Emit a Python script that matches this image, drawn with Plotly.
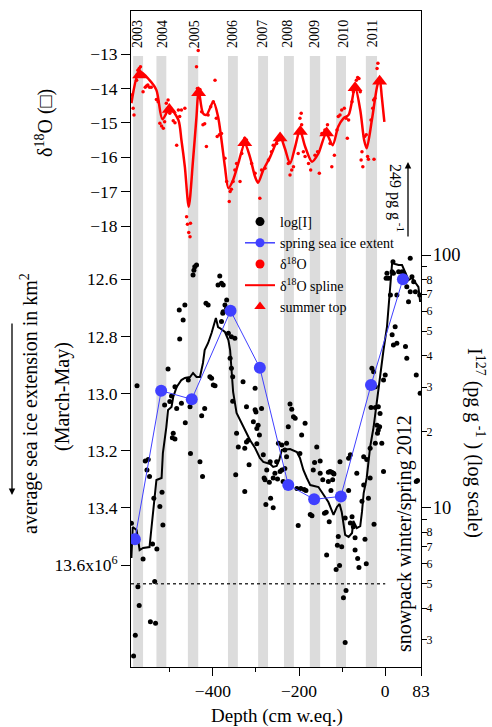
import plotly.graph_objects as go

FONT = "Liberation Serif"

# ---------------- data ----------------
# grey summer bands (depth, cm w.eq.)
band_start = [-585, -531, -458, -365, -295, -235, -175, -114, -45]
band_end = [-562, -508, -434, -342, -272, -212, -151, -91, -19]
year_labels = ["2003", "2004", "2005", "2006", "2007", "2008", "2009", "2010", "2011"]
year_depth = [-574, -516, -441, -353, -284, -226, -163, -96, -28]

# spring (March-May) sea ice extent, 10^6 km2
sea_year = [2003, 2004, 2005, 2006, 2007, 2008, 2009, 2010, 2011, 2012]
sea_depth = [-581, -520, -449, -359, -291, -225, -165, -103, -33, 41]
sea_ice = [13.51, 12.99, 13.02, 12.71, 12.91, 13.32, 13.37, 13.36, 12.97, 12.60]

# delta 18O samples
d18_depth = [-589, -585, -583, -577, -576, -574, -571, -568, -565, -562, -557, -554, -551, -547, -543,
             -531, -527, -523, -519, -515, -512, -508, -504, -500, -492, -488, -484, -480, -477, -473,
             -465, -461, -459, -456, -453, -452, -438, -434, -436, -430, -426, -423, -419, -415, -411,
             -405, -399, -395, -392, -390, -385, -380, -372, -368, -362, -360, -357, -353, -349, -345,
             -337, -333, -326, -322, -310, -302, -291, -287, -279, -271, -264, -260, -252, -248, -244,
             -237, -225, -221, -217, -213, -202, -198, -195, -194, -190, -186, -178, -173, -163, -157,
             -153, -147, -140, -134, -128, -124, -118, -112, -109, -105, -101, -95, -91, -88, -85,
             -77, -74, -67, -64, -61, -58, -56, -54, -52, -48, -44, -41, -39, -26, -33, -29, -27, -24,
             -19, -17]
d18_val = [-14.19, -14.58, -14.77, -13.76, -13.61, -13.47, -13.42, -13.37, -13.61, -14.10, -13.97, -13.93, -13.90, -13.97, -13.97,
           -14.32, -14.39, -15.01, -15.09, -15.16, -14.97, -14.43, -14.34, -14.72, -14.94, -15.00, -15.65, -14.63, -14.82, -14.63,
           -14.58, -17.73, -17.95, -18.19, -18.31, -17.92, -13.37, -12.90, -14.00, -14.03, -14.68, -15.06, -15.03, -15.69, -14.77,
           -14.53, -14.39, -13.76, -14.87, -15.40, -15.35, -15.31, -16.03, -16.71, -17.29, -17.00, -16.93, -16.71, -16.37, -16.18,
           -16.71, -15.89, -15.45, -15.50, -16.18, -16.47, -17.19, -16.37, -16.32, -16.08, -15.84, -15.65, -15.60, -15.50, -15.40,
           -15.50, -16.18, -16.52, -16.37, -16.28, -15.89, -14.87, -14.72, -15.06, -15.84, -15.98, -16.18, -16.37, -15.94, -15.84,
           -16.47, -15.31, -15.21, -15.06, -15.60, -16.28, -15.94, -15.21, -14.82, -14.77, -14.63, -14.58, -14.87, -15.45, -14.92,
           -14.39, -14.10, -13.76, -13.68, -13.71, -14.10, -16.08, -15.84, -16.28, -15.40, -15.35, -15.98, -16.06, -16.06, -14.92, -14.58, -14.34, -14.29,
           -13.42, -13.27]

# delta 18O spline
spl_depth = [-589, -570, -547, -531, -517, -500, -480, -473, -465, -456, -446, -438, -433, -423, -415,
             -399, -388, -380, -372, -364, -353, -341, -326, -314, -302, -295, -283, -267, -252, -244,
             -233, -221, -209, -198, -186, -170, -155, -137, -122, -109, -97, -85, -70, -58, -49,
             -43, -31, -19, -13, -8, -2]
spl_val = [-14.43, -13.51, -13.76, -14.05, -14.90, -14.58, -14.92, -15.50, -16.28, -17.44, -16.08, -14.82, -14.05, -14.72, -14.77,
           -14.39, -14.82, -15.50, -16.28, -16.90, -16.66, -16.18, -15.60, -15.99, -16.57, -16.74, -16.37, -15.99, -15.55, -15.40,
           -15.74, -16.18, -15.69, -15.21, -15.69, -16.13, -15.89, -15.31, -15.65, -15.11, -14.87, -14.77, -13.97, -14.63, -15.50,
           -15.74, -14.92, -13.95, -13.71, -14.24, -14.97]

# summer tops
top_depth = [-570, -501, -433, -326, -244, -197, -136, -70, -13]
top_val = [-13.61, -14.61, -14.13, -15.58, -15.44, -15.25, -15.30, -13.98, -13.79]

# iodine samples (pg/g)
iod_depth = [-589, -562, -540, -530, -537, -523, -518, -516, -535, -574, -571, -545, -533, -580, -584,
             -576, -557, -550, -547, -504, -512, -500, -496, -488, -492, -494, -488, -484, -473, -478,
             -469, -465, -477, -464, -457, -453, -452, -446, -442, -438, -444, -430, -426, -424, -419,
             -416, -411, -407, -403, -399, -395, -388, -384, -380, -376, -377, -372, -368, -364, -357,
             -360, -357, -354, -349, -345, -341, -347, -322, -380, -354, -330, -302, -300, -306, -295,
             -298, -292, -322, -221, -217, -213, -209, -194, -186, -159, -229, -240, -248, -326, -318,
             -287, -279, -275, -267, -252, -244, -260, -240, -233, -237, -167, -151, -132, -128, -120,
             -105, -85, -66, -50, -35, -31, -27, -23, -16, -12, -19, -23, -4, 4, 8,
             12, 16, 19, 23, 19, 27, 31, 39, 43, 47, 50, 54, 58, 62, 66,
             70, 58, 72, 81, 27, 16, 50, 18, 2, 80, 0, -4, -8, 72, 75,
             -553, -326, -316, -302, -298, -283, -281, -269, -277, -266, -260, -256, -250, -233, -229,
             -225, -198, -205, -202, -196, -188, -184, -174, -170, -164, -151, -145, -141, -137, -136,
             -130, -132, -124, -119, -122, -126, -114, -109, -111, -106, -101, -93, -85, -81, -91,
             -97, -77, -74, -70, -70, -64, -61, -47, -44, -54, -50, -43, -39, -35, -26,
             -13, -18, -16, -33, -23, -93, -81, -376, -368]
iod_val = [8.68, 6.27, 7.19, 6.87, 10.9, 10.1, 11.5, 8.54, 5.10, 4.87, 4.10, 3.54, 3.49, 3.13, 2.59,
           30.4, 15.3, 15.5, 13.3, 35.4, 25.5, 26.3, 27.7, 30.1, 19.7, 18.9, 18.7, 24.7, 25.9, 60.6,
           55.3, 63.4, 46.5, 21.7, 32.0, 25.1, 16.4, 83.3, 89.9, 91.3, 87.0, 15.2, 23.1, 13.3, 24.7,
           64.4, 63.4, 33.0, 32.5, 30.6, 30.4, 76.1, 82.6, 77.3, 76.1, 58.8, 63.4, 66.3, 49.0, 47.5,
           39.0, 35.6, 26.4, 46.8, 19.7, 17.4, 13.5, 25.1, 54.5, 33.0, 31.5, 29.7, 23.9, 21.9, 21.2,
           20.6, 19.4, 18.2, 25.7, 24.5, 22.9, 22.6, 19.4, 21.6, 17.4, 18.0, 17.7, 18.0, 17.2, 18.5,
           24.7, 12.9, 14.1, 15.2, 15.2, 13.9, 13.1, 14.1, 14.3, 12.7, 14.1, 13.7, 12.7, 13.9, 13.7,
           15.2, 15.7, 13.7, 15.9, 17.2, 35.6, 34.5, 30.1, 25.1, 23.6, 21.2, 18.0, 13.9, 84.6, 80.9,
           69.5, 85.9, 84.6, 52.0, 44.0, 44.7, 85.9, 85.9, 84.6, 43.4, 39.0, 65.3, 97.0, 82.1, 78.4,
           71.6, 71.6, 33.5, 28.4, 69.5, 48.3, 74.9, 94.0, 80.9, 69.5, 33.5, 32.0, 18.0, 12.7, 12.8,
           14.1, 11.6, 14.8, 24.4, 17.9, 16.2, 13.1, 12.6, 10.3, 10.9, 10.0, 13.7, 13.0, 16.9, 15.9,
           20.9, 16.4, 11.9, 8.5, 11.9, 11.8, 11.7, 9.4, 9.3, 15.1, 15.3, 12.9, 9.5, 9.6, 6.5,
           8.8, 13.8, 13.8, 13.6, 12.9, 11.7, 5.7, 7.7, 7.1, 5.9, 7.0, 9.1, 11.7, 16.2, 4.7,
           4.4, 9.2, 8.4, 7.6, 6.8, 6.3, 5.8, 7.5, 6.0, 10.6, 12.3, 15.5, 10.9, 13.1, 8.6,
           20.9, 19.7, 20.3, 24.9, 24.9, 2.93, 8.7, 59.6, 61.5]

# iodine running mean
rm_depth = [-589, -586, -577, -570, -562, -547, -543, -539, -535, -531, -519, -516, -508, -504, -496,
            -492, -484, -473, -465, -453, -446, -438, -430, -426, -423, -419, -411, -403, -399, -393,
            -388, -384, -372, -364, -360, -357, -353, -345, -337, -326, -314, -302, -291, -283, -267,
            -260, -252, -246, -240, -221, -205, -198, -190, -182, -174, -155, -143, -132, -120, -112,
            -106, -101, -93, -85, -77, -74, -66, -58, -54, -50, -43, -35, -27, -19, -12,
            -4, 4, 8, 12, 16, 23, 31, 39, 47, 54, 62, 70, 77, 81]
rm_val = [6.32, 8.39, 8.16, 6.80, 6.93, 6.99, 8.16, 9.53, 11.02, 12.87, 13.11, 16.46, 20.86, 24.36, 25.03,
          27.43, 30.03, 32.01, 32.60, 32.90, 34.12, 32.90, 32.90, 35.71, 37.38, 42.08, 44.86, 49.13, 51.89, 56.33,
          51.89, 51.41, 49.58, 46.10, 42.08, 36.05, 28.70, 23.71, 22.24, 20.30, 18.53, 17.23, 15.73, 15.17, 14.89,
          14.49, 14.62, 15.45, 16.92, 17.07, 16.61, 15.73, 14.10, 13.11, 12.29, 12.07, 11.23, 10.53, 9.36, 10.07,
          10.34, 9.62, 7.80, 7.66, 7.94, 8.86, 8.31, 8.46, 9.62, 11.43, 13.11, 17.39, 20.86, 26.68, 34.12,
          42.08, 51.89, 62.27, 79.63, 92.97, 92.13, 91.29, 91.29, 84.87, 79.63, 81.10, 77.49, 74.72, 65.16]

threshold_depth = [-590, 0]
threshold_I = [5, 5]

# axis ticks
x_tickvals = [-400, -200, 0, 83]
x_ticktext = ["\u2212400", "\u2212200", "0", "83"]
x_minor = [-500, -300, -100]
sea_tickvals = [12.6, 12.8, 13.0, 13.2, 13.4, 13.6]
sea_ticktext = ["12.6", "12.8", "13.0", "13.2", "13.4", "13.6x10<sup>6</sup>"]
d18_tickvals = [-13, -14, -15, -16, -17, -18]
d18_ticktext = ["\u221213", "\u221214", "\u221215", "\u221216", "\u221217", "\u221218"]
log_major = [10, 100]
log_minor = [3, 4, 5, 6, 7, 8, 20, 30, 40, 50, 60, 70, 80]
log_minor_text = ["3", "4", "5", "6", "7", "8", "2", "3", "4", "5", "6", "7", "8"]
log_minor_unlabeled = [9, 90]

# ---------------- figure ----------------
W, H = 492, 727
ML, MR, MT, MB = 131, 71, 11, 60
PW, PH = W - ML - MR, H - MT - MB


def PX(px):
    return (px - ML) / PW


def PY(py):
    return (H - MB - py) / PH


BLUE = "#4040ff"
fig = go.Figure()

fig.add_trace(go.Scatter(x=iod_depth, y=iod_val, yaxis="y", mode="markers",
                         marker=dict(color="black", size=5), showlegend=False))
fig.add_trace(go.Scatter(x=rm_depth, y=rm_val, yaxis="y", mode="lines",
                         line=dict(color="black", width=2), showlegend=False))
fig.add_trace(go.Scatter(x=threshold_depth, y=threshold_I, yaxis="y", mode="lines",
                         line=dict(color="#333333", width=1.5, dash="dot"), showlegend=False))
fig.add_trace(go.Scatter(x=[None], y=[None], yaxis="y4", mode="markers", showlegend=False,
                         hoverinfo="skip"))
fig.add_trace(go.Scatter(x=sea_depth, y=sea_ice, yaxis="y2", mode="lines+markers",
                         line=dict(color=BLUE, width=1), marker=dict(color=BLUE, size=12),
                         showlegend=False))
fig.add_trace(go.Scatter(x=d18_depth, y=d18_val, yaxis="y3", mode="markers",
                         marker=dict(color="red", size=3.5), showlegend=False))
fig.add_trace(go.Scatter(x=spl_depth, y=spl_val, yaxis="y3", mode="lines",
                         line=dict(color="red", width=2.5, shape="spline", smoothing=0.8),
                         showlegend=False))
fig.add_trace(go.Scatter(x=top_depth, y=top_val, yaxis="y3", mode="markers",
                         marker=dict(symbol="triangle-up", color="red", size=13), showlegend=False))

# legend entries
fig.add_trace(go.Scatter(x=[None], y=[None], yaxis="y", mode="markers", name="log[I]",
                         marker=dict(color="black", size=9)))
fig.add_trace(go.Scatter(x=[None], y=[None], yaxis="y2", mode="lines+markers",
                         name="spring sea ice extent",
                         line=dict(color=BLUE, width=1.5), marker=dict(color=BLUE, size=9)))
fig.add_trace(go.Scatter(x=[None], y=[None], yaxis="y3", mode="markers", name="\u03b4<sup>18</sup>O",
                         marker=dict(color="red", size=9)))
fig.add_trace(go.Scatter(x=[None], y=[None], yaxis="y3", mode="lines", name="\u03b4<sup>18</sup>O spline",
                         line=dict(color="red", width=2)))
fig.add_trace(go.Scatter(x=[None], y=[None], yaxis="y3", mode="markers", name="summer top",
                         marker=dict(symbol="triangle-up", color="red", size=10)))

shapes = []
for s, e in zip(band_start, band_end):
    shapes.append(dict(type="rect", xref="x", yref="paper", x0=s, x1=e, y0=0, y1=PY(56),
                       fillcolor="#dcdcdc", line=dict(width=0), layer="below"))


def note(text, px, py, size, angle=0):
    return dict(text=text, x=PX(px), y=PY(py), xref="paper", yref="paper", showarrow=False,
                textangle=angle, font=dict(size=size, color="black"),
                xanchor="center", yanchor="middle")


annotations = []
for lab, d in zip(year_labels, year_depth):
    annotations.append(dict(text=lab, x=d, y=PY(34), xref="x", yref="paper", showarrow=False,
                            textangle=-90, font=dict(size=14, color="black"),
                            xanchor="center", yanchor="middle"))

annotations += [
    note("\u03b4<sup>18</sup>O (\u25a1)", 44, 123, 20, -90),
    note("average sea ice extension in km<sup>2</sup>", 29, 404, 20, -90),
    note("(March-May)", 62, 397, 20, -90),
    note("I<sup>127</sup> (pg g<sup> -1</sup> ) (log scale)", 475, 443, 20, 90),
    note("snowpack winter/spring 2012", 404, 534, 20, -90),
    note("249 pg g<sup> -1</sup>", 396, 198, 16, 90),
    dict(text="", x=PX(408), y=PY(162), xref="paper", yref="paper", showarrow=True,
         ax=0, ay=76, arrowhead=2, arrowsize=1, arrowwidth=1.3, arrowcolor="black"),
    dict(text="", x=PX(12), y=PY(495), xref="paper", yref="paper", showarrow=True,
         ax=0, ay=-173, arrowhead=2, arrowsize=1, arrowwidth=1.3, arrowcolor="black"),
    note("Depth (cm w.eq.)", 276.5, 716, 19),
]

axis_common = dict(showgrid=False, zeroline=False, ticks="outside", tickcolor="black",
                   tickwidth=1, linecolor="black", linewidth=1, color="black")

fig.update_layout(
    width=W, height=H,
    margin=dict(l=ML, r=MR, t=MT, b=MB, pad=0),
    paper_bgcolor="white", plot_bgcolor="white",
    font=dict(family=FONT, color="black", size=17),
    xaxis=dict(range=[-590, 83], tickmode="array", tickvals=x_tickvals, ticktext=x_ticktext,
               ticklen=8, showline=True, mirror=True, tickfont=dict(size=17.5, color="black"),
               minor=dict(tickvals=x_minor, ticklen=4, ticks="outside", tickcolor="black"),
               **axis_common),
    yaxis=dict(type="log", range=[0.3696, 2.9656], side="right", anchor="x",
               tickmode="array", tickvals=log_major, ticktext=["10", "100"], ticklen=9,
               showline=True, tickfont=dict(size=18.5, color="black"), ticklabelstandoff=-2,
               **axis_common),
    yaxis4=dict(type="log", range=[0.3696, 2.9656], side="right", anchor="x", overlaying="y",
                tickmode="array", tickvals=log_minor, ticktext=log_minor_text, ticklen=5,
                showline=False, tickfont=dict(size=12, color="black"), ticklabelstandoff=-3,
                minor=dict(tickvals=log_minor_unlabeled, ticklen=5, ticks="outside",
                           tickcolor="black"),
                **axis_common),
    yaxis2=dict(range=[13.957, 11.661], side="left", anchor="x", overlaying="y",
                tickmode="array", tickvals=sea_tickvals, ticktext=sea_ticktext, ticklen=9,
                showline=True, tickfont=dict(size=17.5, color="black"), **axis_common),
    yaxis3=dict(range=[-30.82, -11.75], side="left", anchor="x", overlaying="y",
                tickmode="array", tickvals=d18_tickvals, ticktext=d18_ticktext, ticklen=9,
                showline=False, tickfont=dict(size=17.5, color="black"), **axis_common),
    legend=dict(x=PX(240), y=PY(206), xanchor="left", yanchor="top", bgcolor="rgba(0,0,0,0)",
                font=dict(size=14, color="black"), itemwidth=30, tracegroupgap=0,
                itemsizing="trace"),
    shapes=shapes,
    annotations=annotations,
)

fig.write_html("out.html")
